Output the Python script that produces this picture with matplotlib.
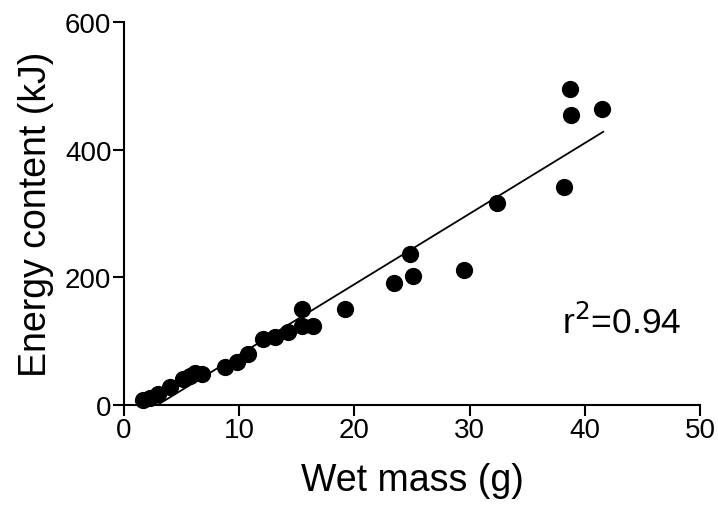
import numpy as np
import matplotlib
matplotlib.use("Agg")
import matplotlib.pyplot as plt

plt.rcParams["font.family"] = ["Liberation Sans", "DejaVu Sans"]

wet_mass = [1.68, 2.26, 2.98, 3.99, 5.12, 5.73, 6.16, 6.74, 8.77, 9.78, 10.79,
            12.09, 13.11, 14.26, 15.43, 15.43, 16.43, 19.2, 23.44, 24.83, 25.11,
            29.54, 32.35, 38.19, 38.72, 38.8, 41.49]
energy = [8, 11, 17, 28, 41, 46, 50, 49, 59, 68, 80,
          104, 106, 115, 150, 124, 123, 150, 191, 236, 202,
          211, 317, 341, 495, 454, 464]

# fitted line end points
line_x = [2.9, 41.6]
line_y = [0, 428]
r2_text = "r$^2$=0.94"

fig = plt.figure(figsize=(7.18, 5.10), dpi=100)
ax = fig.add_axes([124 / 718, 104 / 510, 576 / 718, 383 / 510])

ax.plot(line_x, line_y, color="black", linewidth=1.3, zorder=2)
ax.scatter(wet_mass, energy, s=130, color="black", zorder=3, clip_on=False)

ax.set_xlim(0, 50)
ax.set_ylim(0, 600)
ax.set_xticks([0, 10, 20, 30, 40, 50])
ax.set_yticks([0, 200, 400, 600])

for side in ["top", "right"]:
    ax.spines[side].set_visible(False)
for side in ["left", "bottom"]:
    ax.spines[side].set_linewidth(1.5)

ax.tick_params(direction="out", length=8, width=1.5, labelsize=20, pad=1)

ax.set_xlabel("Wet mass (g)", fontsize=27, labelpad=13)
ax.set_ylabel("Energy content (kJ)", fontsize=27, labelpad=8)

ax.text(38.0, 130, r2_text, fontsize=25.5, ha="left", va="center")

fig.savefig("out.png", dpi=100)
